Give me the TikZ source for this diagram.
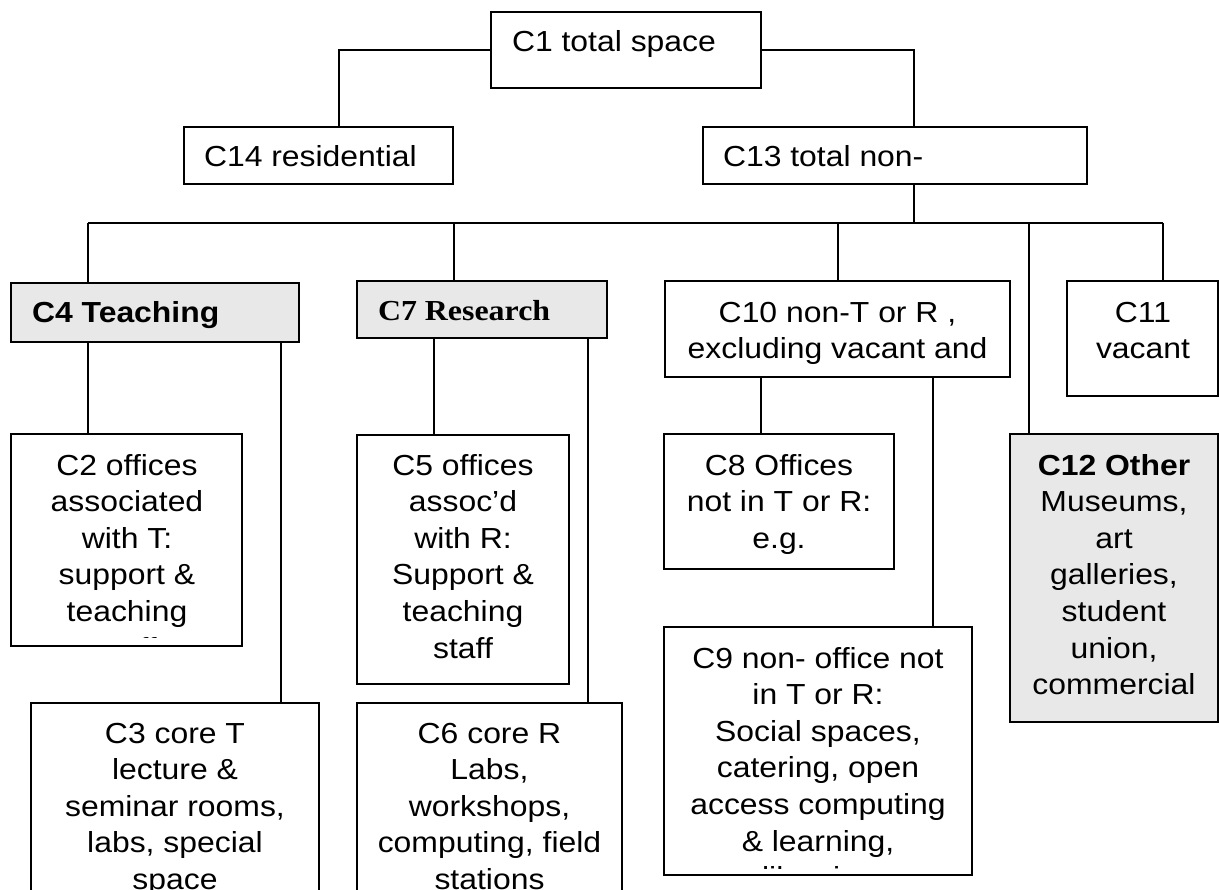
\documentclass[tikz,border=0pt]{standalone}
\usepackage{fontspec}
\setmainfont[FakeStretch=1.1]{Liberation Sans}
\newfontfamily\tnrfont[FakeStretch=1.1]{Liberation Serif}
\begin{document}
\begin{tikzpicture}[x=1pt,y=-1pt,
  box/.style={draw=black, line width=1.3pt, inner sep=0pt, outer sep=0pt, anchor=north west, fill=white},
  graybox/.style={box, fill=black!9},
  conn/.style={draw=black, line width=1.2pt},
  txt/.style={inner sep=0pt, outer sep=0pt, font={\fontsize{29}{36.6}\selectfont}, align=center},
]
\useasboundingbox (0,0) rectangle (1219,890);
% boxes
\node[box, minimum width=270pt, minimum height=76pt] (c1) at (491,12) {};
\node[box, minimum width=269pt, minimum height=57pt] (c14) at (184,127) {};
\node[box, minimum width=384pt, minimum height=57pt] (c13) at (703,127) {};
\node[graybox, line width=1.8pt, minimum width=288pt, minimum height=59pt] (c4) at (11,283) {};
\node[graybox, minimum width=250pt, minimum height=57pt] (c7) at (357,281) {};
\node[box, minimum width=345pt, minimum height=96pt] (c10) at (665,281) {};
\node[box, minimum width=151pt, minimum height=115pt] (c11) at (1067,281) {};
\node[box, minimum width=231pt, minimum height=212pt] (c2) at (11,434) {};
\node[box, minimum width=212pt, minimum height=249pt] (c5) at (357,435) {};
\node[box, minimum width=230pt, minimum height=135pt] (c8) at (664,434) {};
\node[box, minimum width=308pt, minimum height=248pt] (c9) at (664,627) {};
\node[graybox, minimum width=208pt, minimum height=288pt] (c12) at (1010,434) {};
\node[box, minimum width=288pt, minimum height=200pt] (c3) at (31,703) {};
\node[box, minimum width=265pt, minimum height=200pt] (c6) at (357,703) {};
% connector points
\coordinate (busL) at (88,223);
\coordinate (busR) at (1163,223);
\coordinate (k14) at ([xshift=155pt]c14.north west);
\coordinate (k13) at ([xshift=211pt]c13.north west);
\coordinate (k7) at ([xshift=97pt]c7.north west);
\coordinate (k10) at ([xshift=173pt]c10.north west);
\coordinate (k12) at ([xshift=19pt]c12.north west);
\coordinate (k3) at ([xshift=250pt]c3.north west);
\coordinate (k5) at ([xshift=77pt]c5.north west);
\coordinate (k6) at ([xshift=231pt]c6.north west);
\coordinate (k8) at ([xshift=97pt]c8.north west);
\coordinate (k9) at ([xshift=269pt]c9.north west);
% connectors
\draw[conn] (c1.west) -| (k14);
\draw[conn] (c1.east) -| (k13);
\draw[conn] (k13 |- c13.south) -- (k13 |- busL);
\draw[conn] (busL) -- (busR);
\draw[conn] (busL) -- (busL |- c4.north);
\draw[conn] (k7 |- busL) -- (k7);
\draw[conn] (k10 |- busL) -- (k10);
\draw[conn] (k12 |- busL) -- (k12);
\draw[conn] (busR) -- (busR |- c11.north);
\draw[conn] (busL |- c4.south) -- (busL |- c2.north);
\draw[conn] (k3 |- c4.south) -- (k3);
\draw[conn] (k5 |- c7.south) -- (k5);
\draw[conn] (k6 |- c7.south) -- (k6);
\draw[conn] (k8 |- c10.south) -- (k8);
\draw[conn] (k9 |- c10.south) -- (k9);
% texts
\node[txt, anchor=base west] (t1) at (512,52) {C1 total space};
\node[txt, anchor=base west] (t14) at (204,167) {C14 residential};
\node[txt, anchor=base west] (t13) at (723,167) {C13 total non-};
\node[txt, anchor=base west, font={\fontsize{29}{37}\selectfont\bfseries}] (t4) at (32,323) {C4 Teaching};
\node[txt, anchor=base west, font={\fontsize{29}{37}\selectfont\tnrfont\bfseries}] (t7) at (378,321) {C7 Research};
\node[txt, anchor=north] (t10) at (837.5,296.4) {\strut C10 non-T or R ,\\excluding vacant and};
\node[txt, anchor=north] (t11) at (1143,296.4) {\strut C11\\vacant};
\begin{scope}
\clip (11,434) rectangle (242,637.5);
\node[txt, anchor=north] (t2) at (127,449.4) {\strut C2 offices\\associated\\with T:\\support \&\\teaching\\staff};
\end{scope}
\node[txt, anchor=north] (t5) at (463,449.4) {\strut C5 offices\\assoc’d\\with R:\\Support \&\\teaching\\staff};
\node[txt, anchor=north] (t8) at (779,449.4) {\strut C8 Offices\\not in T or R:\\e.g.};
\node[txt, anchor=north] (t12) at (1114,449.4) {\strut\textbf{C12 Other}\\Museums,\\art\\galleries,\\student\\union,\\commercial};
\begin{scope}
\clip (664,627) rectangle (972,868.5);
\node[txt, anchor=north] (t9) at (818,642.4) {\strut C9 non- office not\\in T or R:\\Social spaces,\\catering, open\\access computing\\\& learning,\\libraries};
\end{scope}
\node[txt, anchor=north] (t3) at (175,717.4) {\strut C3 core T\\lecture \&\\seminar rooms,\\labs, special\\space};
\node[txt, anchor=north] (t6) at (489.5,717.4) {\strut C6 core R\\Labs,\\workshops,\\computing, field\\stations};
\end{tikzpicture}
\end{document}
